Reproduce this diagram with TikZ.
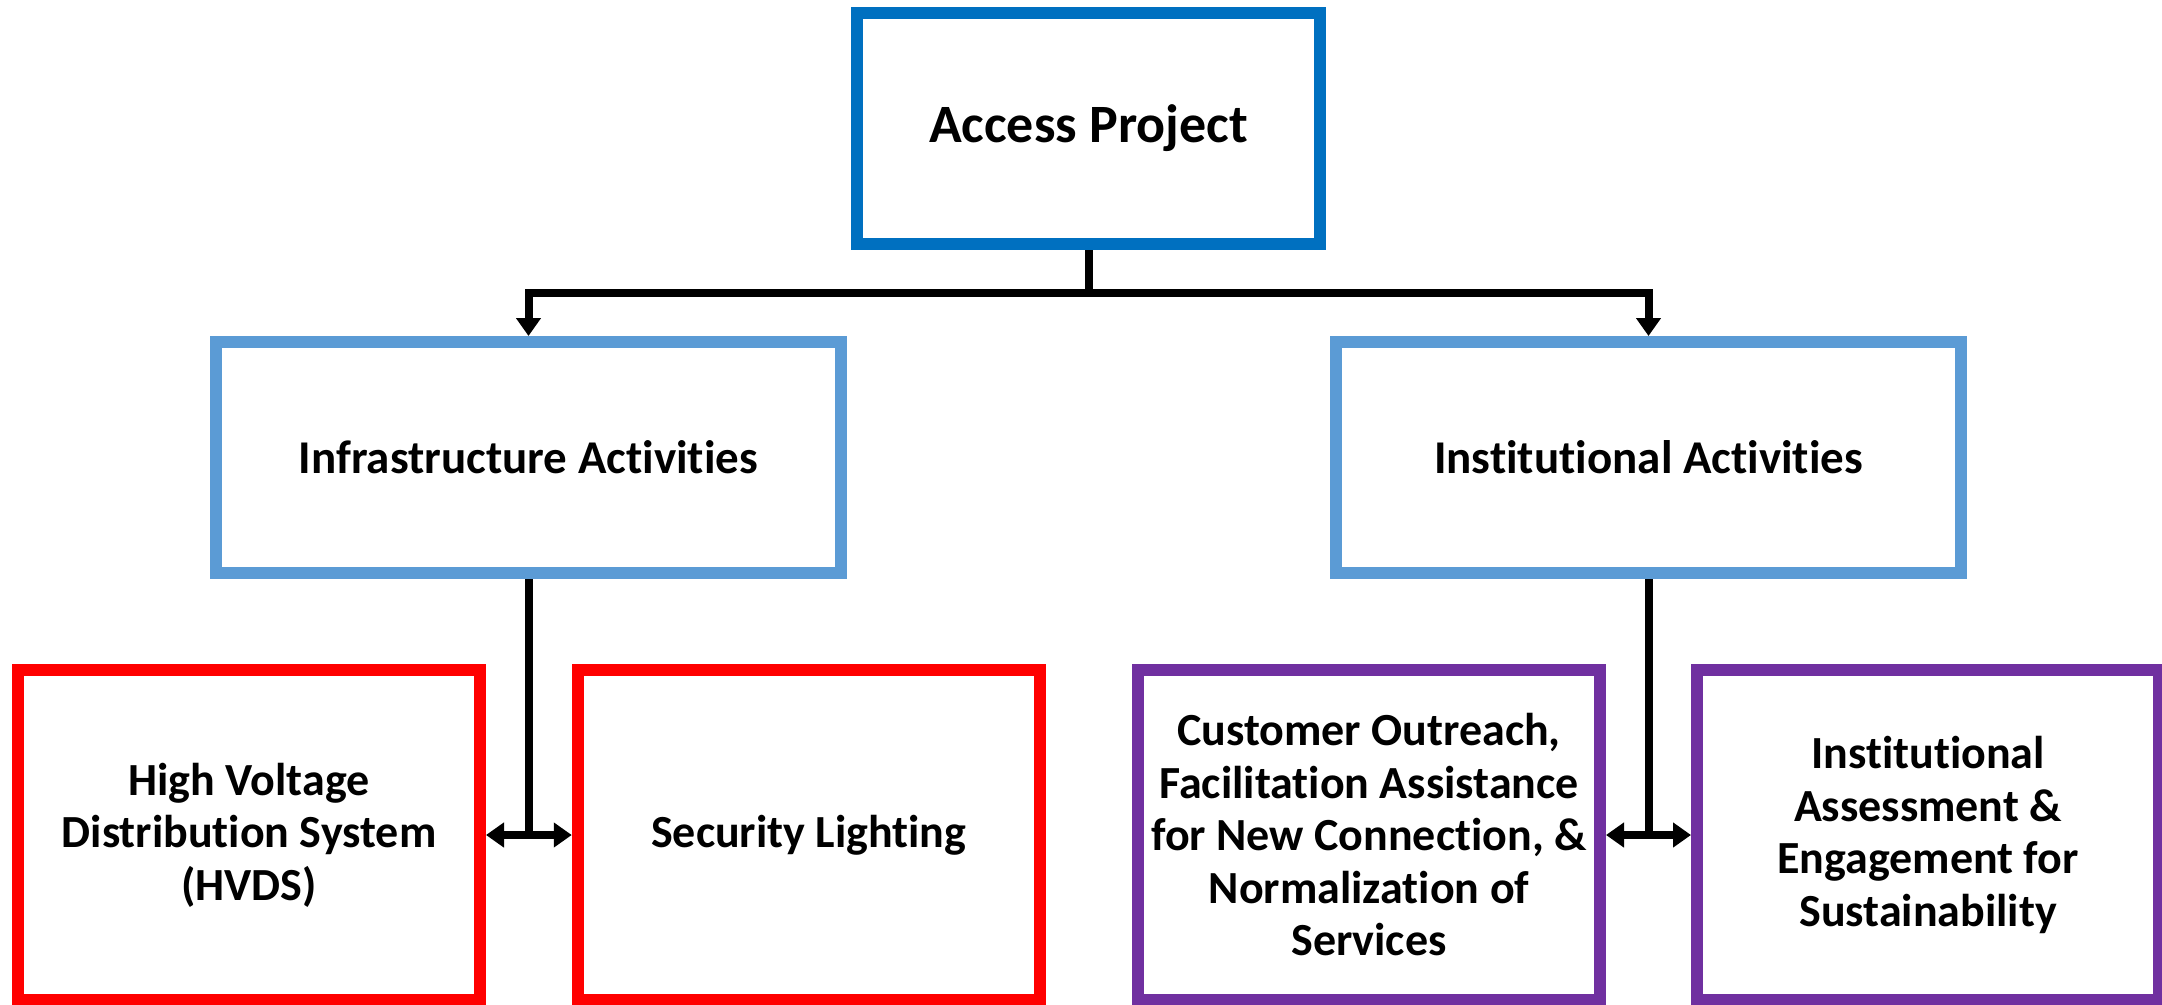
\documentclass[tikz,border=0pt]{standalone}
\usepackage{fontspec}
\setmainfont[Ligatures=CommonOff]{Carlito}
\usetikzlibrary{arrows.meta}
\definecolor{topblue}{HTML}{0070C0}
\definecolor{midblue}{HTML}{5B9BD5}
\definecolor{redc}{HTML}{FF0000}
\definecolor{purp}{HTML}{7030A0}
\begin{document}
\begin{tikzpicture}[x=1pt,y=-1pt,
  box/.style={draw, line width=12pt, align=center, inner sep=0pt, fill=white,
    font=\bfseries\fontsize{46}{52.5}\selectfont},
  topbox/.style={box, draw=topblue, minimum width=463pt, minimum height=231pt,
    font=\bfseries\fontsize{54}{60}\selectfont},
  midbox/.style={box, draw=midblue, minimum width=625pt, minimum height=231pt,
    font=\bfseries\fontsize{47}{52}\selectfont},
  redbox/.style={box, draw=redc, minimum width=462pt, minimum height=330pt},
  purpbox/.style={box, draw=purp, minimum width=462pt, minimum height=330pt},
  conn/.style={line width=8pt, draw=black},
  >={Triangle[length=18pt,width=24pt]}
]
\useasboundingbox (0,0) rectangle (2162,1004);
\fill[white] (0,0) rectangle (2162,1004);
\clip (0,0) rectangle (2162,1004);

\node[topbox] (ap) at (1088.5,128.5) {Access Project};
\node[midbox] (infra) at (528.5,457.5) {Infrastructure Activities};
\node[midbox] (inst) at (1648.5,457.5) {Institutional Activities};

\node[redbox] (hvds) at (249,835) {High Voltage\\Distribution System\\(HVDS)};
\node[redbox] (sec) at (808.75,835) {Security Lighting};
\node[purpbox] (cust) at (1369,835) {Customer Outreach,\\Facilitation Assistance\\for New Connection, \&\\Normalization of\\Services};
\node[purpbox] (iae) at (1928,835) {Institutional\\Assessment \&\\Engagement for\\Sustainability};

\coordinate (j) at (1088.5,293);
\draw[conn] (ap.south) -- (j);
\draw[conn,<->] (infra.north) |- (j) -| (inst.north);
\draw[conn,<->] (hvds.east) -- (sec.west);
\draw[conn] (infra.south) -- (infra.south |- hvds.east);
\draw[conn,<->] (cust.east) -- (iae.west);
\draw[conn] (inst.south) -- (inst.south |- cust.east);
\end{tikzpicture}
\end{document}
